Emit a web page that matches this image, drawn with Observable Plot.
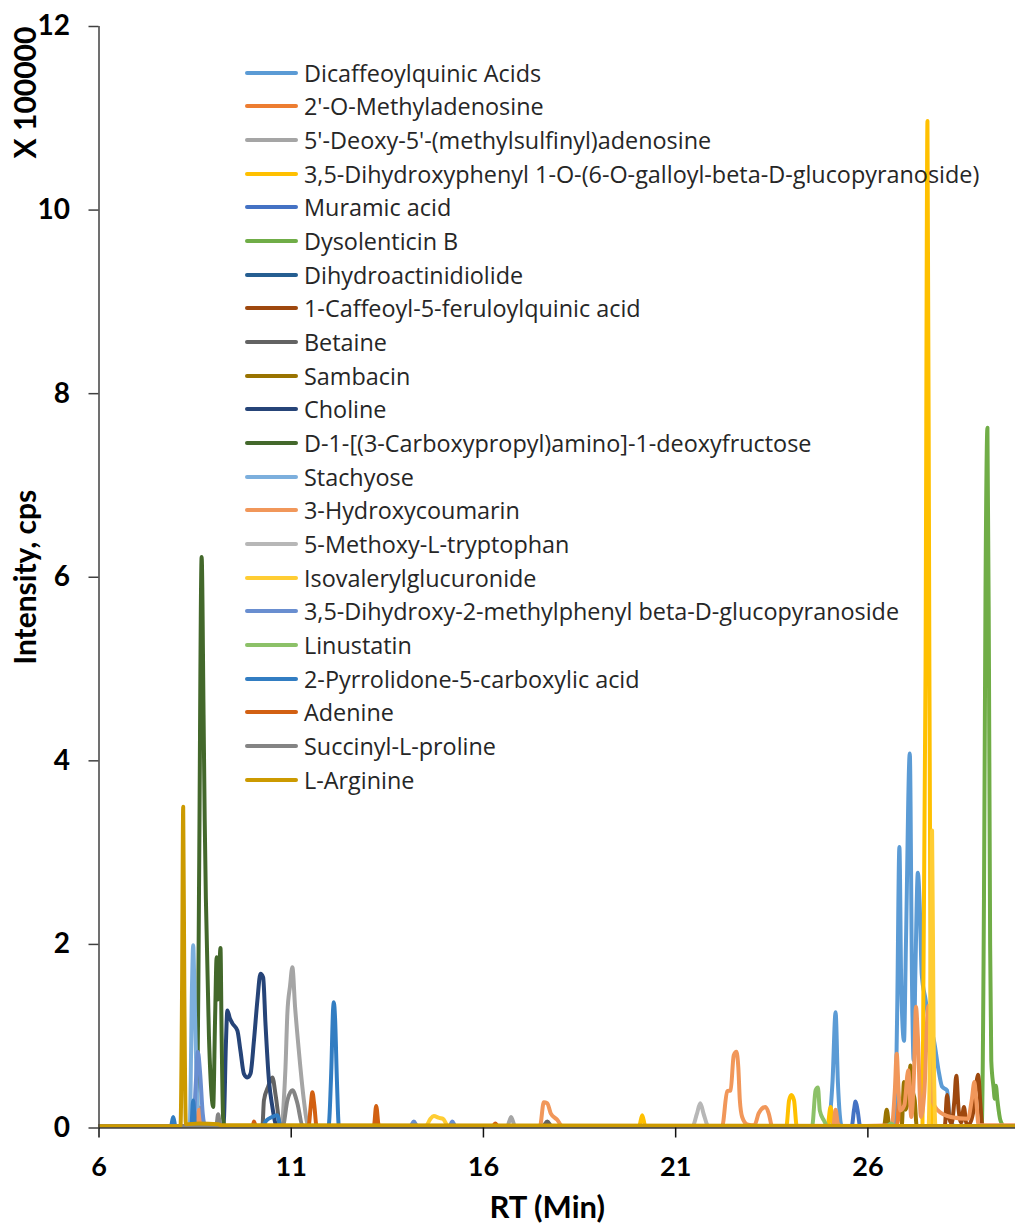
<!DOCTYPE html>
<html>
<head>
<meta charset="utf-8">
<script src="https://cdn.jsdelivr.net/npm/d3@7"></script>
<script src="https://cdn.jsdelivr.net/npm/@observablehq/plot@0.6"></script>
<style>
  html, body { margin: 0; padding: 0; background: #fff; }
  #wrap { position: relative; width: 1015px; height: 1224px; font-family: Lato, "Open Sans", sans-serif; }
  #legend { position: absolute; left: 245px; top: 56px; }
  .row { display: flex; align-items: center; height: 33.67px; }
  .sw { width: 53px; height: 4px; border-radius: 2px; margin-right: 6px; }
  .lab { font-family: "Open Sans", Lato, sans-serif; font-size: 23.4px; color: #262626; white-space: nowrap; }
</style>
</head>
<body>
<div id="wrap"></div>
<script>
// ---- Data (RT in minutes, intensity in units of 100000 cps) ----
const seriesNames = [
  "Dicaffeoylquinic Acids",
  "2'-O-Methyladenosine",
  "5'-Deoxy-5'-(methylsulfinyl)adenosine",
  "3,5-Dihydroxyphenyl 1-O-(6-O-galloyl-beta-D-glucopyranoside)",
  "Muramic acid",
  "Dysolenticin B",
  "Dihydroactinidiolide",
  "1-Caffeoyl-5-feruloylquinic acid",
  "Betaine",
  "Sambacin",
  "Choline",
  "D-1-[(3-Carboxypropyl)amino]-1-deoxyfructose",
  "Stachyose",
  "3-Hydroxycoumarin",
  "5-Methoxy-L-tryptophan",
  "Isovalerylglucuronide",
  "3,5-Dihydroxy-2-methylphenyl beta-D-glucopyranoside",
  "Linustatin",
  "2-Pyrrolidone-5-carboxylic acid",
  "Adenine",
  "Succinyl-L-proline",
  "L-Arginine"
];
const seriesColors = [
  "#5B9BD5", "#ED7D31", "#A5A5A5", "#FFC000", "#4472C4", "#70AD47",
  "#255E91", "#9E480E", "#636363", "#997300", "#264478", "#43682B",
  "#7CAFDD", "#F1975A", "#B7B7B7", "#FFCD33", "#698ED0", "#8CC168",
  "#327DC2", "#D26012", "#848484", "#CC9A00"
];
const xTicks = [6, 11, 16, 21, 26];
const yTicks = [0, 2, 4, 6, 8, 10, 12];
const xTitle = "RT (Min)";
const yTitle = "Intensity, cps";
const yUnit = "X 100000";

const dicaffeoylquinic = [[6,0.02],[24.95,0.02],[25.08,0.5],[25.16,1.26],[25.22,0.5],[25.32,0.02],[26.70,0.02],[26.76,1.2],[26.82,3.06],[26.87,1.5],[26.94,0.95],[26.99,2.0],[27.09,4.08],[27.15,1.5],[27.19,0.74],[27.24,1.8],[27.30,2.78],[27.35,2.41],[27.40,1.68],[27.50,1.4],[27.62,1.1],[27.72,0.95],[27.85,0.6],[27.93,0.45],[28.06,0.41],[28.12,0.15],[28.25,0.02],[29.84,0.02]];
const methyladenosine = [[6,0.02],[8.55,0.02],[8.62,0.22],[8.70,0.02],[26.75,0.02],[26.82,0.3],[26.90,0.02],[29.84,0.02]];
const deoxyMethylsulfinyl = [[6,0.02],[10.76,0.02],[10.80,0.25],[10.85,0.65],[10.90,1.25],[10.97,1.55],[11.03,1.75],[11.10,1.32],[11.19,0.88],[11.33,0.30],[11.42,0.05],[11.50,0.02],[16.62,0.02],[16.72,0.12],[16.82,0.02],[29.84,0.02]];
const dihydroxyphenylGalloyl = [[6,0.02],[20.05,0.02],[20.13,0.14],[20.21,0.02],[23.88,0.02],[23.95,0.30],[24.01,0.36],[24.08,0.30],[24.15,0.02],[24.95,0.02],[25.03,0.23],[25.10,0.02],[27.42,0.02],[27.50,5.0],[27.55,10.97],[27.60,5.0],[27.66,0.02],[29.84,0.02]];
const muramicAcid = [[6,0.02],[25.58,0.02],[25.64,0.2],[25.68,0.29],[25.73,0.2],[25.80,0.02],[29.84,0.02]];
const dysolenticinB = [[6,0.02],[28.96,0.02],[29.02,2.5],[29.06,5.86],[29.11,7.63],[29.15,5.0],[29.18,2.0],[29.21,0.73],[29.27,0.44],[29.30,0.32],[29.33,0.46],[29.37,0.30],[29.45,0.08],[29.55,0.02],[29.84,0.02]];
const dihydroactinidiolide = [[6,0.02],[29.84,0.02]];
const caffeoylFeruloylquinic = [[6,0.02],[28.0,0.02],[28.06,0.36],[28.12,0.1],[28.18,0.05],[28.25,0.3],[28.30,0.57],[28.36,0.2],[28.43,0.06],[28.50,0.23],[28.56,0.05],[28.63,0.04],[28.75,0.2],[28.81,0.45],[28.87,0.58],[28.92,0.3],[28.98,0.02],[29.84,0.02]];
const betaine = [[6,0.02],[10.25,0.02],[10.29,0.3],[10.40,0.45],[10.51,0.55],[10.60,0.34],[10.72,0.02],[17.55,0.02],[17.66,0.07],[17.77,0.02],[29.84,0.02]];
const sambacin = [[6,0.02],[26.42,0.02],[26.49,0.20],[26.56,0.02],[26.88,0.02],[26.94,0.5],[26.98,0.2],[27.04,0.3],[27.11,0.68],[27.17,0.4],[27.22,0.3],[27.27,0.02],[29.84,0.02]];
const choline = [[6,0.02],[9.22,0.02],[9.25,0.1],[9.30,0.9],[9.34,1.28],[9.40,1.2],[9.47,1.14],[9.60,1.06],[9.68,0.84],[9.77,0.59],[9.86,0.55],[9.94,0.59],[10.03,0.95],[10.12,1.39],[10.20,1.68],[10.27,1.64],[10.33,1.14],[10.42,0.52],[10.51,0.23],[10.59,0.05],[10.65,0.02],[29.84,0.02]];
const carboxypropylFructose = [[6,0.02],[8.55,0.02],[8.60,2.5],[8.67,6.22],[8.72,4.5],[8.75,3.35],[8.78,2.5],[8.86,1.0],[8.93,0.35],[8.97,0.23],[9.02,1.2],[9.06,1.86],[9.09,1.4],[9.12,1.6],[9.16,1.96],[9.19,1.0],[9.23,0.1],[9.27,0.02],[29.84,0.02]];
const stachyose = [[6,0.02],[8.36,0.02],[8.42,1.57],[8.45,1.99],[8.48,1.57],[8.54,0.48],[8.60,0.1],[8.66,0.02],[29.84,0.02]];
const hydroxycoumarin = [[6,0.02],[8.56,0.02],[8.60,0.2],[8.65,0.02],[17.47,0.02],[17.57,0.28],[17.66,0.27],[17.75,0.16],[17.92,0.09],[18.05,0.02],[22.21,0.02],[22.34,0.40],[22.43,0.41],[22.51,0.79],[22.58,0.83],[22.63,0.66],[22.67,0.30],[22.73,0.12],[22.86,0.04],[23.05,0.03],[23.16,0.16],[23.34,0.23],[23.42,0.16],[23.51,0.02],[25.10,0.02],[25.16,0.2],[25.22,0.05],[25.30,0.02],[26.62,0.03],[26.70,0.4],[26.75,0.81],[26.80,0.4],[26.84,0.19],[26.95,0.25],[27.05,0.63],[27.13,0.12],[27.20,0.6],[27.25,1.32],[27.30,1.0],[27.38,0.12],[27.47,0.4],[27.57,1.33],[27.62,0.8],[27.68,0.3],[27.80,0.2],[28.16,0.12],[28.60,0.1],[28.70,0.3],[28.77,0.5],[28.82,0.3],[28.88,0.03],[29.84,0.03]];
const methoxyTryptophan = [[6,0.02],[21.44,0.02],[21.55,0.15],[21.64,0.27],[21.73,0.15],[21.85,0.02],[29.84,0.02]];
const isovalerylglucuronide = [[6,0.02],[14.50,0.02],[14.62,0.10],[14.71,0.13],[14.85,0.11],[14.95,0.10],[15.08,0.02],[27.58,0.02],[27.64,2.0],[27.67,3.24],[27.71,1.0],[27.76,0.02],[29.84,0.02]];
const dihydroxyMethylphenyl = [[6,0.02],[8.45,0.02],[8.52,0.5],[8.57,0.83],[8.63,0.6],[8.70,0.15],[8.76,0.02],[14.10,0.02],[14.19,0.07],[14.28,0.02],[15.12,0.02],[15.19,0.07],[15.27,0.02],[29.84,0.02]];
const linustatin = [[6,0.02],[24.55,0.02],[24.64,0.41],[24.70,0.44],[24.75,0.19],[24.86,0.08],[24.95,0.02],[26.50,0.02],[26.60,0.05],[26.70,0.02],[29.84,0.02]];
const pyrrolidoneCarboxylic = [[6,0.02],[7.87,0.02],[7.93,0.12],[7.99,0.02],[8.40,0.02],[8.45,0.3],[8.50,0.02],[10.25,0.02],[10.35,0.08],[10.50,0.12],[10.64,0.14],[10.72,0.02],[11.97,0.02],[12.04,0.6],[12.09,1.3],[12.11,1.37],[12.14,1.2],[12.19,0.5],[12.24,0.02],[29.84,0.02]];
const adenine = [[6,0.02],[10.00,0.02],[10.03,0.07],[10.08,0.02],[11.45,0.02],[11.51,0.25],[11.55,0.39],[11.60,0.25],[11.66,0.02],[13.15,0.02],[13.21,0.24],[13.28,0.02],[16.25,0.02],[16.31,0.05],[16.37,0.02],[29.84,0.02]];
const succinylProline = [[6,0.02],[9.05,0.02],[9.10,0.15],[9.15,0.02],[10.78,0.02],[10.90,0.3],[11.03,0.41],[11.16,0.27],[11.29,0.03],[11.37,0.02],[29.84,0.02]];
const lArginine = [[6,0.02],[8.12,0.02],[8.16,1.5],[8.19,3.50],[8.22,1.5],[8.26,0.04],[8.60,0.05],[9.10,0.04],[9.20,0.03],[29.84,0.02]];

const seriesPoints = [
  dicaffeoylquinic, methyladenosine, deoxyMethylsulfinyl, dihydroxyphenylGalloyl,
  muramicAcid, dysolenticinB, dihydroactinidiolide, caffeoylFeruloylquinic,
  betaine, sambacin, choline, carboxypropylFructose, stachyose, hydroxycoumarin,
  methoxyTryptophan, isovalerylglucuronide, dihydroxyMethylphenyl, linustatin,
  pyrrolidoneCarboxylic, adenine, succinylProline, lArginine
];

const rows = [];
seriesNames.forEach((name, i) => {
  for (const [rt, v] of seriesPoints[i]) rows.push({series: name, rt, v});
});

const fontAxis = "Lato, 'Open Sans', sans-serif";

const chart = Plot.plot({
  width: 1015,
  height: 1224,
  marginTop: 26,
  marginBottom: 96.5,
  marginLeft: 98.5,
  marginRight: 0,
  style: {fontFamily: fontAxis, background: "#fff", overflow: "visible"},
  x: {domain: [6, 29.84]},
  y: {domain: [0, 12]},
  color: {domain: seriesNames, range: seriesColors},
  marks: [
    Plot.line(rows, {x: "rt", y: "v", z: "series", stroke: "series", strokeWidth: 4,
      curve: "monotone-x", clip: true, strokeLinejoin: "round", strokeLinecap: "round"}),
    Plot.ruleX([6], {stroke: "#404040", strokeWidth: 1.5}),
    Plot.ruleY([0], {stroke: "#404040", strokeWidth: 1.5}),
    Plot.axisX({ticks: xTicks, tickSize: 10, tickPadding: 19, fontSize: 27, fontWeight: "bold",
      stroke: "#111", strokeWidth: 1.5, fill: "#000", label: null}),
    Plot.axisY({ticks: yTicks, tickSize: 10, tickPadding: 19, fontSize: 28, fontWeight: "bold",
      stroke: "#404040", strokeWidth: 1.5, fill: "#000", label: null}),
    Plot.text([xTitle], {frameAnchor: "bottom", dx: -10, dy: 80, fontSize: 31, fontWeight: "bold",
      fill: "#000", lineAnchor: "middle", textAnchor: "middle"}),
    Plot.text([yTitle], {frameAnchor: "left", rotate: -90, dx: -73, fontSize: 30, fontWeight: "bold",
      fill: "#000", textAnchor: "middle", lineAnchor: "middle"}),
    Plot.text([yUnit], {frameAnchor: "top-left", rotate: -90, dx: -73, dy: 66, fontSize: 30, fontWeight: "bold",
      fill: "#000", textAnchor: "middle", lineAnchor: "middle"})
  ]
});

const wrap = document.getElementById("wrap");
wrap.appendChild(chart);

const legend = document.createElement("div");
legend.id = "legend";
seriesNames.forEach((name, i) => {
  const row = document.createElement("div");
  row.className = "row";
  const sw = document.createElement("div");
  sw.className = "sw";
  sw.style.background = seriesColors[i];
  const lab = document.createElement("span");
  lab.className = "lab";
  lab.textContent = name;
  row.appendChild(sw);
  row.appendChild(lab);
  legend.appendChild(row);
});
wrap.appendChild(legend);
</script>
</body>
</html>
